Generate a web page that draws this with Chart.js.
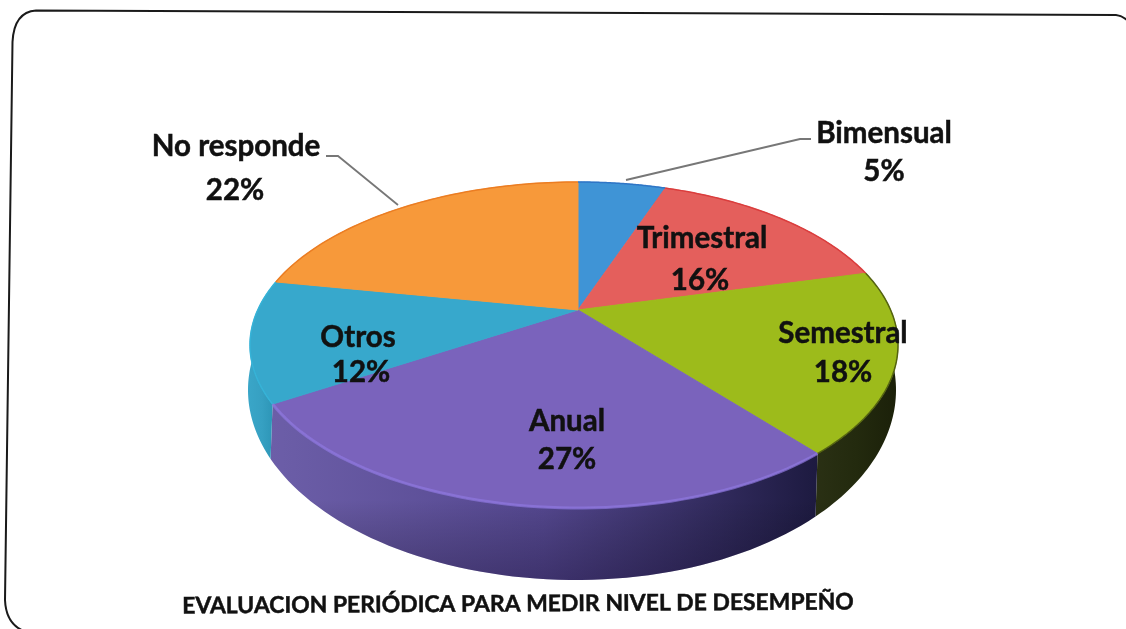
<!DOCTYPE html>
<html><head><meta charset="utf-8">
<style>html,body{margin:0;padding:0;background:#fff}#w{width:1126px;height:629px}</style>
<script src="https://cdn.jsdelivr.net/npm/chart.js@4"></script></head>
<body><div id="w"><canvas id="c" width="1126" height="629"></canvas></div>
<script>
const categories=["Bimensual","Trimestral","Semestral","Anual","Otros","No responde"];
const values=[5.4,15.6,18,27,12,22];
const topColors=["#3f94d6","#e45f5c","#9dbb1b","#7a63bc","#37a8cc","#f7993a"];
const rimColors=["#2e72c4","#d93a3a","#4c5a10","#8f78e0","#35b4d8","#ea7a20"];
const sideStops=[["#2f6f9f","#2f6f9f","#2f6f9f"],["#a03c3a","#a03c3a","#a03c3a"],["#2a3014","#232a0e","#1b2009"],["#6c5ea8","#54478f","#1d1a40"],["#3aa6c8","#36a0c2","#2b93b4"],["#b06a20","#b06a20","#b06a20"]];
const titleText="EVALUACION PERIÓDICA PARA MEDIR NIVEL DE DESEMPEÑO";
const labelPos=[[884,133,884,171],[702,238,700,280],[843,333,843,372],[567,421,567,459],[358,337,361,372],[236,146,235,190]];
const leaders=[[[811,139],[800,139],[626,180]],[[326,156],[338,156],[398,205]]];
const TOP={cx:574,cy:345,rx:324,ry:163},BOT={cx:572,cy:390,rx:324,ry:190},P=0.215;
function proj(a,E){ // a: Chart.js arc angle (0 = east); returns projected rim point
  const th=a+Math.PI/2,X=Math.sin(th),Y=-Math.cos(th),d=1-P*Y,u=X*Math.sqrt(1-P*P)/d;
  return [E.cx+E.rx*u+4*(1-u*u), E.cy+E.ry*(Y-P)/d];
}
function apex(E){return [E.cx+4,E.cy-E.ry*P];}
function rim(el,E,rev){
  const n=60,pts=[];
  for(let i=0;i<=n;i++){const t=el.startAngle+(el.endAngle-el.startAngle)*(rev?1-i/n:i/n);pts.push(proj(t,E));}
  return pts;
}
const pie3d={id:'pie3d',
 beforeDatasetsDraw(chart){
  const ctx=chart.ctx,arcs=chart.getDatasetMeta(0).data;
  ctx.save();
  // card: only the top and left edges fall inside the photo
  ctx.beginPath();
  ctx.moveTo(24,631);ctx.quadraticCurveTo(6,624,5,600);
  ctx.lineTo(12.5,42);ctx.quadraticCurveTo(14,12,36,10.5);
  ctx.lineTo(1116,15);ctx.quadraticCurveTo(1122,15.5,1128,21);
  ctx.strokeStyle='#1a1a1a';ctx.lineWidth=2;ctx.stroke();
  // sides
  arcs.forEach((el,i)=>{
    const a=rim(el,TOP),b=rim(el,BOT,true);
    ctx.beginPath();[...a,...b].forEach((p,k)=>k?ctx.lineTo(p[0],p[1]):ctx.moveTo(p[0],p[1]));ctx.closePath();
    const xs=[...a,...b].map(p=>p[0]);
    const g=ctx.createLinearGradient(Math.min(...xs),0,Math.max(...xs),0);
    g.addColorStop(0,sideStops[i][0]);g.addColorStop(.5,sideStops[i][1]);g.addColorStop(1,sideStops[i][2]);
    ctx.fillStyle=g;ctx.fill();
    const v=ctx.createLinearGradient(0,500,0,582);
    v.addColorStop(0,'rgba(0,0,0,0)');v.addColorStop(1,'rgba(10,0,30,.3)');
    ctx.fillStyle=v;ctx.fill();
  });
  // top face
  arcs.forEach((el,i)=>{
    const o=apex(TOP),a=rim(el,TOP);
    ctx.beginPath();ctx.moveTo(o[0],o[1]);a.forEach(p=>ctx.lineTo(p[0],p[1]));ctx.closePath();
    ctx.fillStyle=topColors[i];ctx.fill();
    ctx.strokeStyle=topColors[i];ctx.lineWidth=1;ctx.stroke();
  });
  // coloured rim line on each slice
  arcs.forEach((el,i)=>{
    const r=rim(el,TOP);
    ctx.beginPath();r.forEach((p,k)=>k?ctx.lineTo(p[0],p[1]):ctx.moveTo(p[0],p[1]));
    ctx.strokeStyle=rimColors[i];ctx.lineWidth=i===3?3:1.5;ctx.globalAlpha=i===3?.7:.9;ctx.stroke();ctx.globalAlpha=1;
  });
  // leaders
  ctx.strokeStyle='#777';ctx.lineWidth=1.8;
  leaders.forEach(l=>{ctx.beginPath();l.forEach((p,k)=>k?ctx.lineTo(p[0],p[1]):ctx.moveTo(p[0],p[1]));ctx.stroke();});
  // labels
  ctx.fillStyle='#111';ctx.strokeStyle='#111';ctx.lineWidth=.5;ctx.textAlign='center';ctx.textBaseline='middle';
  ctx.font='bold 29.5px Lato';
  categories.forEach((c,i)=>{const p=labelPos[i],t=Math.round(values[i])+'%';
    ctx.fillText(c,p[0],p[1]);ctx.strokeText(c,p[0],p[1]);ctx.fillText(t,p[2],p[3]);ctx.strokeText(t,p[2],p[3]);});
  ctx.translate(518,604);ctx.rotate(-0.006);
  ctx.font='bold 22.9px Lato';ctx.fillText(titleText,0,0);ctx.strokeText(titleText,0,0);
  ctx.restore();
  return false;
 }};
new Chart(document.getElementById('c'),{type:'pie',
 data:{labels:categories,datasets:[{data:values,backgroundColor:topColors,borderWidth:0}]},
 options:{responsive:false,animation:false,rotation:0,layout:{padding:0},
  plugins:{legend:{display:false},tooltip:{enabled:false}}},
 plugins:[pie3d]});
</script></body></html>
